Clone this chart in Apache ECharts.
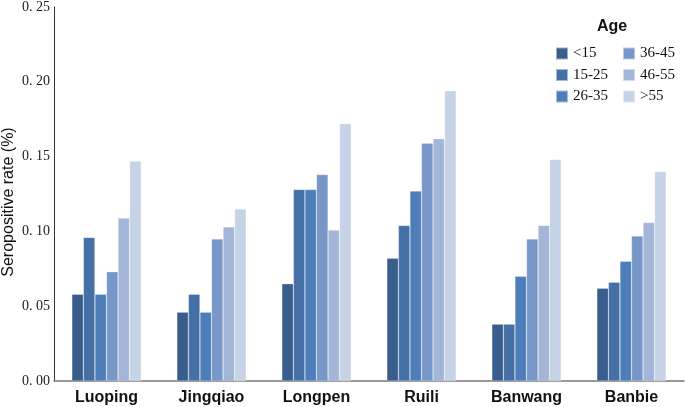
<!DOCTYPE html>
<html><head><meta charset="utf-8">
<script src="https://cdn.jsdelivr.net/npm/echarts@6/dist/echarts.min.js"></script>
<style>html,body{margin:0;padding:0;background:#fff}#c{width:685px;height:407px}</style>
</head><body><div id="c"></div>
<script>
const categories = ['Luoping','Jingqiao','Longpen','Ruili','Banwang','Banbie'];
const ageGroups = ['<15','15-25','26-35','36-45','46-55','>55'];
const lt15   = [0.058, 0.046, 0.065, 0.082, 0.038, 0.062];
const a15_25 = [0.096, 0.058, 0.128, 0.104, 0.038, 0.066];
const a26_35 = [0.058, 0.046, 0.128, 0.127, 0.070, 0.080];
const a36_45 = [0.073, 0.095, 0.138, 0.159, 0.095, 0.097];
const a46_55 = [0.109, 0.103, 0.101, 0.162, 0.104, 0.106];
const gt55   = [0.147, 0.115, 0.172, 0.194, 0.148, 0.140];
const yTicks = [0, 0.05, 0.10, 0.15, 0.20, 0.25];
const yAxisTitle = 'Seropositive rate (%)';
const seriesValues = [lt15, a15_25, a26_35, a36_45, a46_55, gt55];
const colors = ['#3a5e8b','#4570a5','#4e7eb9','#7797c9','#a4b6d7','#c6d2e6'];

const chart = echarts.init(document.getElementById('c'));
const legendText = {fontFamily:'Liberation Serif', fontSize:15, color:'#111'};
chart.setOption({
  animation:false,
  color: colors,
  title:{text:'Age', left:592, top:14, textStyle:{fontFamily:'Liberation Sans', fontWeight:'bold', fontSize:16, color:'#111'}},
  legend:[
    {data:ageGroups.slice(0,3), orient:'vertical', left:550, top:41, itemWidth:12, itemHeight:12, itemGap:6.5, icon:'rect', textStyle:legendText},
    {data:ageGroups.slice(3), orient:'vertical', left:617, top:41, itemWidth:12, itemHeight:12, itemGap:6.5, icon:'rect', textStyle:legendText}
  ],
  graphic:[{type:'text', x:9, y:202, rotation:Math.PI/2,
    style:{text:yAxisTitle, fontFamily:'Liberation Sans', fontSize:16, fill:'#111', align:'center', verticalAlign:'middle'}}],
  grid:{left:54, right:1, top:7, bottom:26, containLabel:false, outerBoundsMode:'none'},
  xAxis:{type:'category', data:categories, axisTick:{show:false},
    axisLine:{lineStyle:{color:'#777', width:1.5}},
    axisLabel:{fontFamily:'Liberation Sans', fontWeight:'bold', fontSize:16, color:'#111', margin:9}},
  yAxis:{type:'value', min:yTicks[0], max:yTicks[yTicks.length-1], interval:0.05,
    splitLine:{show:false},
    axisLine:{show:true, lineStyle:{color:'#333', width:1}},
    axisTick:{show:false},
    axisLabel:{fontFamily:'Liberation Serif', fontSize:14, color:'#222', margin:4, formatter:v=>v.toFixed(2).replace('.', '. ')}},
  series: seriesValues.map((d,i)=>({name:ageGroups[i], type:'bar', data:d, barGap:'0%', barCategoryGap:'34%',
    itemStyle:{color:colors[i], borderColor:'rgba(255,255,255,0.5)', borderWidth:0.5}}))
});
</script></body></html>
